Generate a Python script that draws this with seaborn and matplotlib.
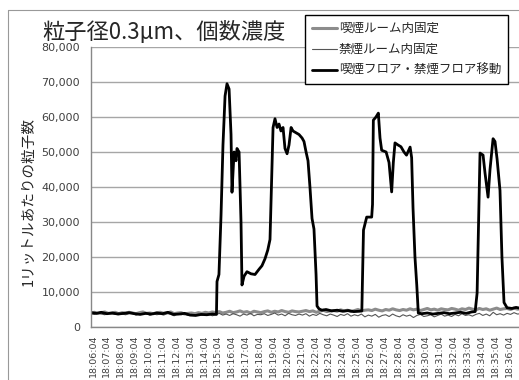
import numpy as np
import pandas as pd
import seaborn as sns
import matplotlib.pyplot as plt
from matplotlib.lines import Line2D

# Time axis labels (one per minute)
time_labels = ["18:%02d:04" % m for m in range(6, 37)]

# Smoking room fixed / non-smoking room fixed: one reading every 0.25 min
fixed_t = np.arange(-0.15, 30.9, 0.25)
smoking_room = [
    4000, 4200, 3900, 4100, 4300, 3900, 4000, 4200, 3800, 4100,
    3900, 4200, 4000, 3800, 4100, 4300, 3900, 4000, 3800, 4100,
    4200, 3900, 4000, 4300, 3800, 4000, 4100, 3700, 3900, 4000,
    3800, 4100, 3900, 4200, 4000, 4300, 4100, 4400, 4000, 4200,
    4500, 4100, 4300, 4600, 4200, 4400, 4000, 4500, 4300, 4100,
    4400, 4600, 4200, 4500, 4300, 4700, 4400, 4200, 4600, 4400,
    4300, 4500, 4700, 4400, 4600, 4200, 4500, 4800, 4400, 4600,
    4700, 4500, 4900, 4600, 4800, 4400, 4700, 5000, 4600, 4800,
    4900, 4700, 5100, 4800, 4600, 5000, 4800, 5200, 4900, 4700,
    5000, 4800, 5200, 4900, 5100, 4700, 5000, 5300, 4900, 5100,
    4800, 5200, 5000, 4900, 5300, 5100, 4800, 5200, 5000, 5400,
    5100, 4900, 5300, 5000, 5200, 4800, 5100, 5400, 5000, 5200,
    5300, 5000, 5400, 5100, 5200,
]
nonsmoking_room = [
    3800, 3600, 4000, 3700, 3500, 3900, 3800, 3600, 4100, 3700,
    3500, 3800, 3900, 3400, 3700, 3600, 3900, 3300, 3800, 3500,
    3700, 3400, 3900, 3600, 3200, 3800, 3500, 3700, 3300, 3600,
    3400, 3700, 3300, 3600, 3800, 3200, 3500, 3900, 3400, 3700,
    3300, 3800, 3500, 3100, 3700, 3400, 3900, 3200, 3600, 3500,
    3800, 3300, 3600, 4000, 3400, 3700, 3200, 3900, 3500, 3300,
    3700, 3400, 3800, 3100, 3600, 3300, 3900, 3500, 3200, 3700,
    3400, 3000, 3600, 3300, 3800, 3100, 3500, 3200, 3700, 2900,
    3400, 3100, 3600, 2800, 3300, 3500, 3000, 3700, 3200, 2900,
    3500, 3100, 3400, 2700, 3300, 3600, 3000, 3200, 3500, 2900,
    3300, 3700, 3100, 3400, 3000, 3600, 3200, 3800, 3300, 3500,
    3100, 3600, 3900, 3300, 3700, 3200, 4200, 3500, 3800, 3400,
    3900, 3600, 4100, 3700, 3800,
]

# Moving between smoking and non-smoking floors (minutes after 18:06:04)
moving_t = [
    -0.15, 0.25, 0.6, 1.0, 1.4, 1.8, 2.2, 2.6, 3.0, 3.4, 3.8, 4.2, 4.6, 5.0,
    5.4, 5.8, 6.2, 6.6, 7.0, 7.4, 7.8, 8.2, 8.6, 8.9,
    8.94, 9.08, 9.23, 9.37, 9.52, 9.66, 9.81, 9.95, 10.02, 10.17, 10.31, 10.38,
    10.53, 10.67, 10.74, 10.89, 11.1, 11.39, 11.68, 11.97, 12.18, 12.4, 12.6,
    12.76, 12.83, 12.98, 13.12, 13.27, 13.41, 13.55, 13.7, 13.84, 13.99, 14.13,
    14.28, 14.42, 14.64, 14.85, 15.07, 15.21, 15.36, 15.5, 15.64, 15.79, 15.93,
    16.08, 16.15,
    16.29, 16.5, 16.8, 17.2, 17.6, 18.0, 18.4, 18.8, 19.2, 19.38,
    19.5, 19.73, 20.09, 20.15, 20.21, 20.4, 20.57, 20.69, 20.81, 21.13, 21.34,
    21.53, 21.65, 21.77, 21.99, 22.2, 22.42, 22.6, 22.86, 22.97, 23.07, 23.21,
    23.34, 23.45,
    23.7, 24.1, 24.5, 24.9, 25.3, 25.7, 26.1, 26.5, 26.9, 27.3, 27.55,
    27.69, 27.8, 27.9, 28.12, 28.26, 28.48, 28.62, 28.84, 28.98, 29.13, 29.34,
    29.48, 29.63, 29.85, 30.2, 30.5, 30.75,
]
moving_v = [
    4100, 3900, 4200, 3800, 4000, 3700, 3900, 4100, 3800, 3600, 3900, 3700,
    4000, 3800, 4200, 3600, 3700, 3900, 3400, 3300, 3600, 3500, 3700, 3600,
    13000, 15000, 32000, 52000, 66000, 69500, 68000, 55000, 38500, 50000, 47500,
    51000, 50000, 30000, 12000, 14500, 15800, 15200, 15000, 16500, 17500, 19500,
    22000, 25000, 35000, 57000, 59500, 57000, 58000, 56000, 57000, 51000, 49500,
    52000, 57000, 56000, 55500, 55000, 54000, 53000, 50000, 47500, 40000, 31000,
    28000, 15000, 6000,
    5200, 4800, 5000, 4600, 4800, 4500, 4700, 4400, 4500, 4600,
    27700, 31400, 31400, 35000, 59100, 60000, 61100, 54000, 50500, 50000, 47000,
    38600, 47000, 52600, 52000, 51500, 50000, 49100, 51400, 48400, 34000, 20000,
    12000, 4000,
    3800, 4000, 3700, 3900, 4100, 3800, 4000, 4200, 3900, 4300, 4400,
    9700, 30000, 49700, 49100, 44000, 37100, 45000, 53800, 53000, 48000, 39000,
    20000, 7000, 5500, 5300, 5600, 5400,
]

series_names = ["喫煙ルーム内固定", "禁煙ルーム内固定", "喫煙フロア・禁煙フロア移動"]

sns.set_style("white")
plt.rcParams["font.family"] = ["Noto Sans CJK JP", "DejaVu Sans"]

fig = plt.figure(figsize=(5.19, 3.80), dpi=100)
ax = fig.add_axes([91 / 519, 53 / 380, 428 / 519, 280 / 380])

df_smoke = pd.DataFrame({"t": fixed_t, "v": smoking_room})
df_non = pd.DataFrame({"t": fixed_t, "v": nonsmoking_room})
df_move = pd.DataFrame({"t": moving_t, "v": moving_v})

sns.lineplot(data=df_smoke, x="t", y="v", ax=ax, color="#8c8c8c", lw=2.2,
             estimator=None, label=series_names[0])
sns.lineplot(data=df_non, x="t", y="v", ax=ax, color="#555555", lw=0.8,
             estimator=None, label=series_names[1])
sns.lineplot(data=df_move, x="t", y="v", ax=ax, color="black", lw=2.0,
             estimator=None, label=series_names[2])

ax.set_xlim(-0.144, 30.71)
ax.set_ylim(0, 80000)
ax.set_yticks(range(0, 80001, 10000))
ax.set_yticklabels(["{:,}".format(v) for v in range(0, 80001, 10000)],
                   family="DejaVu Sans")
ax.set_xticks(range(len(time_labels)))
ax.set_xticklabels(time_labels, rotation=90, family="DejaVu Sans")
ax.tick_params(axis="x", length=0, pad=5.5, labelsize=6.8, labelcolor="#404040")
ax.tick_params(axis="y", length=0, pad=8, labelsize=8, labelcolor="#404040")
ax.set_xlabel("")
ax.set_ylabel("")
ax.grid(axis="y", color="#a6a6a6", lw=1)
ax.set_axisbelow(True)
for s in ["top", "right"]:
    ax.spines[s].set_visible(False)
for s in ["left", "bottom"]:
    ax.spines[s].set_color("#888888")
    ax.spines[s].set_linewidth(1)

leg = ax.legend(loc="upper left", bbox_to_anchor=(305 / 519, 1 - 15 / 380),
                bbox_transform=fig.transFigure, fontsize=9, frameon=True,
                fancybox=False, edgecolor="black", framealpha=1,
                borderaxespad=0, handlelength=2.0, handletextpad=0.15,
                labelspacing=0.65, borderpad=0.55)
leg.get_frame().set_linewidth(1)

fig.text(42 / 519, 1 - 39 / 380, "粒子径0.3µm、個数濃度", fontsize=16,
         va="baseline", ha="left")
fig.text(29 / 519, 1 - 201 / 380, "1リットルあたりの粒子数", fontsize=10.5,
         rotation=90, va="center", ha="center")

# outer chart border
fig.add_artist(Line2D([8 / 519, 1], [1 - 10 / 380, 1 - 10 / 380],
                      transform=fig.transFigure, color="#999999", lw=0.8))
fig.add_artist(Line2D([8 / 519, 8 / 519], [0, 1 - 10 / 380],
                      transform=fig.transFigure, color="#999999", lw=0.8))

fig.savefig("out.png", dpi=100)
